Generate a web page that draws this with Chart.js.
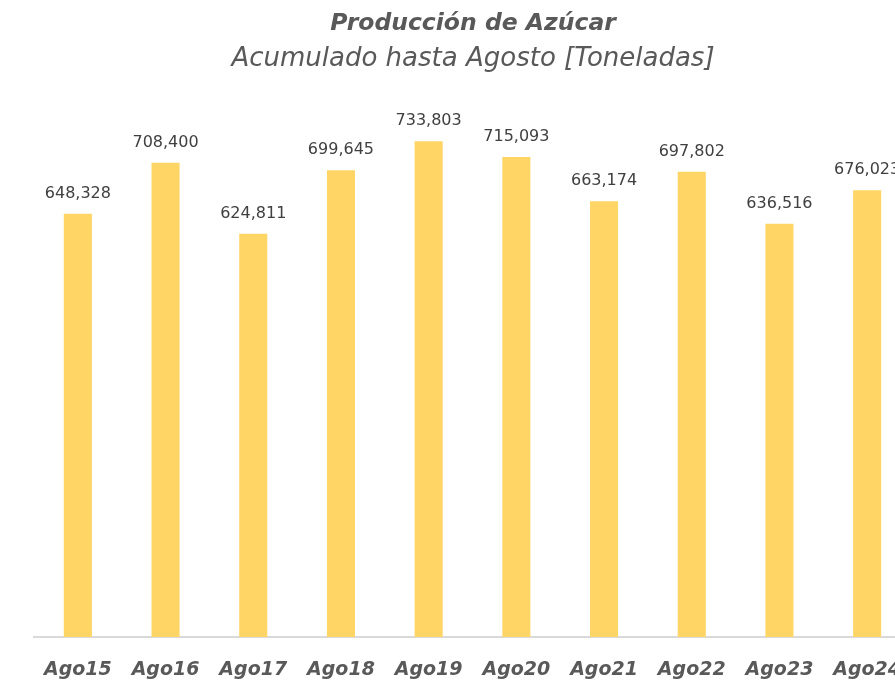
<!DOCTYPE html>
<html>
<head>
<meta charset="utf-8">
<script src="https://cdn.jsdelivr.net/npm/chart.js@4.4.1/dist/chart.umd.min.js"></script>
<style>
  html, body { margin: 0; padding: 0; background: #fff; overflow: hidden; }
  #wrap { position: relative; width: 946px; height: 682px; }
  #chart { position: absolute; left: 0; top: 0; }
  .ttl { position: absolute; left: 0; width: 946px; text-align: center; color: #595959; font-family: "DejaVu Sans", sans-serif; font-style: italic; white-space: nowrap; line-height: normal; }
  #t1 { top: 8px; font-size: 23.5px; font-weight: bold; }
  #t2 { top: 42px; font-size: 26px; }
</style>
</head>
<body>
<div id="wrap">
  <canvas id="chart" width="946" height="682"></canvas>
  <div class="ttl" id="t1">Producción de Azúcar</div>
  <div class="ttl" id="t2">Acumulado hasta Agosto [Toneladas]</div>
</div>
<script>
// ===== Data =====
const labels = ["Ago15", "Ago16", "Ago17", "Ago18", "Ago19", "Ago20", "Ago21", "Ago22", "Ago23", "Ago24"];
const produccion = [648328, 708400, 624811, 699645, 733803, 715093, 663174, 697802, 636516, 676023];

const yMin = 150000;
const yMax = 900000;

const fmt = (n) => n.toLocaleString("en-US");

// value labels above each bar
const barLabels = {
  id: "barLabels",
  afterDatasetsDraw(chart) {
    const { ctx } = chart;
    const meta = chart.getDatasetMeta(0);
    ctx.save();
    ctx.font = "16px 'DejaVu Sans', sans-serif";
    ctx.fillStyle = "#404040";
    ctx.textAlign = "center";
    ctx.textBaseline = "alphabetic";
    meta.data.forEach((bar, i) => {
      ctx.fillText(fmt(produccion[i]), bar.x, bar.y - 16);
    });
    ctx.restore();
  }
};

new Chart(document.getElementById("chart"), {
  type: "bar",
  data: {
    labels,
    datasets: [{
      data: produccion,
      backgroundColor: "#FFD565",
      barPercentage: 0.32,
      categoryPercentage: 1
    }]
  },
  options: {
    responsive: false,
    animation: false,
    layout: { padding: { left: 34, right: 35, top: 0, bottom: 0 } },
    plugins: {
      legend: { display: false },
      tooltip: { enabled: false }
    },
    scales: {
      x: {
        grid: { display: false, drawTicks: false },
        border: { display: true, color: "#D9D9D9", width: 2 },
        ticks: {
          color: "#595959",
          padding: 22,
          font: { family: "'DejaVu Sans', sans-serif", size: 19, weight: "bold", style: "italic" },
          maxRotation: 0,
          autoSkip: false
        },
        afterFit(scale) { scale.height = 45; }
      },
      y: {
        display: false,
        min: yMin,
        max: yMax
      }
    }
  },
  plugins: [barLabels]
});
</script>
</body>
</html>
